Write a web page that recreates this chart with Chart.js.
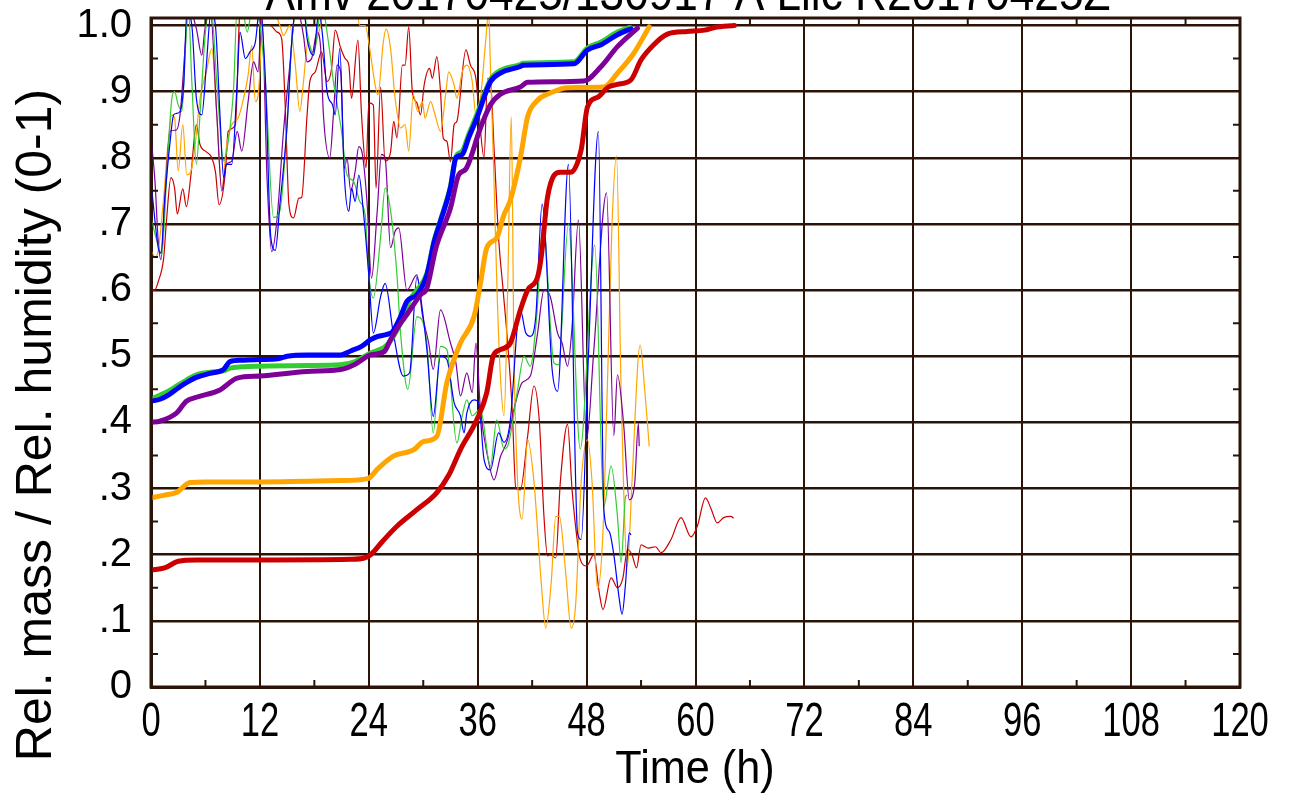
<!DOCTYPE html>
<html>
<head>
<meta charset="utf-8">
<script src="https://cdn.jsdelivr.net/npm/chart.js@4.4.0/dist/chart.umd.min.js"></script>
<style>
  html, body { margin: 0; background: #fff; }
  #wrap { width: 1292px; height: 797px; }
</style>
</head>
<body>
<div id="wrap"><canvas id="c" width="1292" height="797"></canvas></div>
<script>
// ===== Data
const titleText = 'Amv 20170425/130917 A Lilc R20170425Z';
const xTicks = [0, 12, 24, 36, 48, 60, 72, 84, 96, 108, 120];
const yTicks = [0, 0.1, 0.2, 0.3, 0.4, 0.5, 0.6, 0.7, 0.8, 0.9, 1.0];

// thick lines: relative mass
const massBlueT = [0, 1, 2, 3, 3.9, 5, 6.5, 8, 8.7, 10, 12, 14, 15, 17.2, 20.9, 22, 23.2, 24.2, 25, 26, 26.6, 27.5, 28.2, 29.3, 30.4, 31.2, 31.9, 33, 33.6, 34.3, 35, 35.9, 37.4, 38.5, 40.7, 41, 46.6, 48.1, 49.6, 51.4, 52.9];
const massBlueV = [0.432, 0.435, 0.442, 0.452, 0.46, 0.468, 0.474, 0.48, 0.492, 0.494, 0.495, 0.496, 0.5, 0.502, 0.502, 0.508, 0.515, 0.525, 0.53, 0.533, 0.537, 0.56, 0.583, 0.593, 0.623, 0.673, 0.704, 0.755, 0.8, 0.805, 0.83, 0.86, 0.915, 0.928, 0.938, 0.94, 0.942, 0.963, 0.971, 0.986, 0.995];

const massGreenT = [0, 2, 3.9, 5, 6.5, 8, 8.7, 10, 12, 17.2, 20.9, 22.5, 24.2, 26, 27.5, 28.5, 29.3, 30.4, 31.2, 31.9, 33, 33.6, 34.3, 35, 35.9, 37.4, 38.5, 40.7, 41, 46.6, 48.1, 49.6, 51.4, 52.8];
const massGreenV = [0.435, 0.448, 0.464, 0.472, 0.476, 0.478, 0.482, 0.484, 0.485, 0.486, 0.487, 0.492, 0.505, 0.517, 0.55, 0.585, 0.6, 0.625, 0.675, 0.706, 0.757, 0.802, 0.81, 0.835, 0.865, 0.918, 0.932, 0.941, 0.943, 0.945, 0.966, 0.975, 0.99, 0.997];

const massPurpleT = [0, 1, 2.8, 3.9, 5, 7.6, 9.5, 12, 17.2, 20.9, 22.5, 24.2, 25.7, 26.4, 27.5, 28.2, 29.7, 30.4, 31.4, 33, 33.9, 34.7, 36.3, 37.4, 38.5, 40.7, 41.5, 47.7, 49.6, 51.4, 53.6];
const massPurpleV = [0.4, 0.402, 0.414, 0.432, 0.438, 0.449, 0.467, 0.47, 0.477, 0.48, 0.488, 0.502, 0.507, 0.525, 0.55, 0.563, 0.593, 0.603, 0.664, 0.724, 0.774, 0.783, 0.845, 0.88, 0.896, 0.907, 0.914, 0.916, 0.938, 0.968, 0.996];

const massOrangeT = [0, 1.5, 2.8, 4.3, 6, 12, 20.9, 23.9, 25, 26.7, 29, 30, 31.5, 32.6, 34.1, 35.6, 36.3, 37, 38.1, 38.9, 39.6, 40.7, 41.5, 42.6, 44, 45.9, 49.9, 51.4, 53.2, 54.9];
const massOrangeV = [0.286, 0.29, 0.294, 0.309, 0.31, 0.31, 0.312, 0.315, 0.33, 0.349, 0.359, 0.371, 0.379, 0.46, 0.52, 0.56, 0.61, 0.664, 0.679, 0.714, 0.736, 0.8, 0.862, 0.887, 0.898, 0.906, 0.907, 0.928, 0.958, 0.998];

const massRedT = [0, 1.5, 3, 5, 12, 22, 23.5, 24.2, 25.5, 27.1, 29.3, 31.5, 32.8, 34.1, 35.9, 37, 37.7, 38.5, 39.6, 40.7, 41.5, 42.6, 43, 43.7, 45.1, 46.2, 47.4, 48.1, 49.3, 50.4, 51.4, 52.9, 54, 55.4, 56.9, 59.1, 61, 62.1, 64.3];
const massRedV = [0.177, 0.18, 0.19, 0.192, 0.192, 0.193, 0.195, 0.2, 0.22, 0.243, 0.268, 0.294, 0.32, 0.359, 0.404, 0.445, 0.5, 0.51, 0.52, 0.57, 0.6, 0.62, 0.65, 0.741, 0.778, 0.778, 0.812, 0.877, 0.892, 0.907, 0.911, 0.918, 0.948, 0.971, 0.987, 0.991, 0.993, 0.997, 1.0];

// thin lines: relative humidity
const rhBlueT = [0, 0.44, 0.8, 1.1, 1.5, 2.1, 2.5, 2.8, 3.2, 3.6, 3.95, 4.5, 5, 5.6, 6.1, 6.6, 7.1, 7.6, 8, 8.3, 8.9, 9.5, 9.8, 10.4, 10.9, 11.5, 12, 12.6, 13.2, 13.7, 14.2, 15, 15.5, 16.1, 16.8, 17.2, 17.9, 18.5, 18.9, 19.4, 20, 20.3, 20.8, 21.3, 21.8, 22.1, 22.5, 22.9, 23.4, 24, 24.5, 25.3, 25.8, 26.7, 27.8, 28.5, 29.3, 29.9, 30.4, 31.1, 31.9, 32.6, 33.4, 34.1, 34.5, 34.8, 35.6, 36.1, 36.7, 37.4, 38.3, 38.9, 39.6, 40.4, 40.7, 41.3, 41.8, 42.4, 43.1, 44.2, 44.8, 46, 47, 47.4, 48.2, 49.3, 49.9, 50.5, 51, 51.6, 51.9, 52.3, 52.7, 52.9];
const rhBlueV = [0.764, 0.704, 0.664, 0.656, 0.734, 0.824, 0.865, 0.867, 0.87, 0.91, 1.02, 1.0, 0.89, 0.865, 0.94, 1.02, 1.0, 0.865, 0.77, 0.79, 0.79, 0.915, 0.99, 0.95, 0.96, 0.975, 1.03, 0.92, 0.68, 0.66, 0.729, 0.85, 0.975, 1.03, 1.03, 0.98, 0.955, 1.02, 0.985, 0.9, 0.88, 0.865, 0.965, 0.774, 0.719, 0.754, 0.734, 0.774, 0.719, 0.623, 0.535, 0.59, 0.61, 0.535, 0.47, 0.475, 0.62, 0.57, 0.51, 0.409, 0.5, 0.495, 0.43, 0.41, 0.384, 0.414, 0.434, 0.43, 0.344, 0.328, 0.384, 0.37, 0.404, 0.55, 0.57, 0.535, 0.53, 0.56, 0.73, 0.48, 0.447, 0.79, 0.233, 0.223, 0.5, 0.84, 0.268, 0.235, 0.2, 0.133, 0.11, 0.158, 0.233, 0.23];

const rhGreenT = [0, 0.6, 1.2, 1.7, 2.3, 2.6, 3, 3.4, 3.8, 4.1, 4.5, 5, 5.4, 6, 6.6, 7.25, 8, 8.5, 9.1, 9.5, 10, 10.6, 11.2, 12, 12.6, 13.5, 14.2, 15, 15.5, 16.1, 16.8, 17.2, 17.9, 18.8, 19.6, 20.1, 21, 21.6, 22.3, 23, 23.6, 24, 24.5, 25.3, 25.8, 26.4, 27.1, 27.5, 28.3, 29.3, 30.4, 31.1, 31.9, 32.6, 33.7, 34.3, 34.8, 35.4, 36.3, 37.4, 38.1, 38.9, 39.3, 40.4, 41.1, 41.8, 42.5, 43.2, 44.4, 44.9, 46, 47.3, 48.9, 49.9, 50.7, 51.4, 51.8, 52.3, 52.5];
const rhGreenV = [0.71, 0.677, 0.654, 0.765, 0.89, 0.9, 0.88, 0.87, 0.965, 1.03, 0.915, 0.79, 0.865, 0.99, 1.03, 0.915, 0.795, 0.824, 0.905, 1.03, 1.03, 0.99, 1.03, 1.0, 0.915, 0.71, 0.72, 0.85, 0.97, 1.03, 1.03, 0.99, 0.955, 1.03, 0.97, 0.915, 0.84, 0.774, 0.765, 0.734, 0.714, 0.623, 0.588, 0.68, 0.754, 0.72, 0.623, 0.535, 0.45, 0.56, 0.52, 0.384, 0.515, 0.51, 0.369, 0.41, 0.434, 0.41, 0.42, 0.334, 0.404, 0.36, 0.364, 0.45, 0.5, 0.485, 0.56, 0.7, 0.49, 0.487, 0.7, 0.36, 0.668, 0.273, 0.334, 0.258, 0.188, 0.288, 0.29];

const rhPurpleT = [0, 0.44, 0.8, 1.1, 1.5, 2.1, 2.8, 3.2, 3.8, 4.1, 5, 5.6, 5.9, 6.5, 7.25, 7.8, 8.3, 8.9, 9.5, 10, 10.7, 11.3, 11.8, 12.2, 12.8, 13.3, 13.9, 14.6, 15.3, 16, 16.8, 17.2, 17.7, 18.3, 18.7, 19, 19.7, 20.1, 20.5, 20.9, 21.3, 21.6, 22, 22.5, 22.9, 23.3, 23.8, 24.3, 24.9, 25.4, 25.8, 26.4, 26.9, 27.3, 28.2, 29.3, 29.9, 30.6, 31.1, 31.9, 33, 33.6, 34.1, 34.8, 35.4, 35.8, 36.3, 37.1, 37.8, 38.5, 39.3, 40, 40.9, 41.8, 42.6, 43.3, 44, 44.8, 45.3, 45.9, 46.4, 47.1, 48, 48.8, 50.2, 51, 51.4, 52.1, 52.7, 53.3, 53.7, 53.8];
const rhPurpleV = [0.83, 0.764, 0.673, 0.646, 0.734, 0.84, 0.842, 0.865, 0.975, 1.03, 0.995, 0.955, 0.99, 1.03, 0.865, 0.75, 0.79, 0.795, 0.84, 0.81, 0.885, 0.945, 0.93, 1.02, 0.764, 0.658, 0.709, 0.84, 0.94, 1.03, 0.985, 0.945, 0.95, 0.99, 0.965, 0.865, 0.8, 0.865, 0.94, 0.93, 0.784, 0.8, 0.75, 0.78, 0.817, 0.805, 0.734, 0.618, 0.714, 0.805, 0.8, 0.664, 0.689, 0.694, 0.6, 0.623, 0.563, 0.52, 0.48, 0.57, 0.52, 0.49, 0.44, 0.475, 0.445, 0.52, 0.42, 0.348, 0.313, 0.348, 0.374, 0.42, 0.46, 0.47, 0.535, 0.6, 0.59, 0.535, 0.52, 0.485, 0.545, 0.706, 0.374, 0.51, 0.747, 0.38, 0.472, 0.394, 0.283, 0.308, 0.398, 0.364];

const rhOrangeT = [0, 0.44, 0.8, 1.36, 1.9, 2.3, 2.6, 3, 3.5, 3.94, 4.4, 4.9, 5.4, 6.1, 6.7, 7.25, 7.8, 8.3, 8.9, 9.6, 10.2, 10.7, 11.1, 11.5, 11.85, 12.4, 13.2, 14.2, 14.6, 15.3, 15.9, 16.4, 16.8, 17.3, 17.8, 18.5, 19.5, 21, 22.5, 23, 23.6, 24.1, 24.7, 25, 25.6, 25.9, 26.4, 26.9, 27.5, 28, 28.4, 28.9, 29.4, 29.9, 30.2, 30.8, 31.3, 31.9, 32.5, 32.8, 33.4, 33.7, 34.3, 34.8, 35.4, 35.8, 36.3, 36.9, 37.2, 37.4, 37.8, 38.1, 38.5, 38.9, 39.3, 39.7, 40, 40.4, 40.9, 41.5, 42.2, 43, 43.5, 44.1, 44.6, 45, 45.7, 46.3, 46.8, 47.4, 48.1, 48.6, 49.2, 49.8, 50.3, 50.8, 51.3, 51.8, 52.5, 53, 53.9, 54.4, 54.9];
const rhOrangeV = [0.66, 0.65, 0.66, 0.734, 0.824, 0.865, 0.86, 0.78, 0.85, 0.774, 0.78, 0.824, 0.89, 0.93, 0.965, 0.865, 0.754, 0.815, 0.85, 0.86, 0.89, 0.925, 0.97, 0.885, 0.9, 1.03, 1.03, 1.0, 0.985, 1.0, 0.94, 0.87, 0.915, 0.975, 0.96, 0.99, 1.04, 1.04, 1.04, 1.0, 1.0, 0.965, 0.91, 0.895, 0.975, 0.995, 0.965, 0.89, 0.845, 0.85, 0.81, 0.895, 0.87, 0.885, 0.86, 0.885, 0.865, 0.84, 0.9, 0.93, 0.91, 0.89, 0.93, 0.94, 0.915, 0.865, 0.89, 0.98, 1.02, 0.94, 0.764, 0.613, 0.47, 0.41, 0.6, 0.862, 0.5, 0.31, 0.254, 0.374, 0.31, 0.158, 0.089, 0.158, 0.258, 0.258, 0.172, 0.089, 0.126, 0.31, 0.374, 0.31, 0.148, 0.233, 0.46, 0.7, 0.803, 0.45, 0.183, 0.31, 0.517, 0.45, 0.364];

const rhRedT = [0, 0.4, 0.8, 1.4, 1.7, 2.2, 2.6, 2.9, 3.5, 3.9, 4.4, 5, 5.4, 6.1, 6.7, 7.1, 7.5, 8.2, 8.5, 9.3, 9.8, 10.5, 11.5, 12.5, 13.1, 13.9, 14.4, 14.8, 15.2, 15.7, 16.3, 16.6, 17.2, 17.5, 18.1, 18.8, 19.4, 19.9, 20.3, 20.9, 21.4, 21.8, 22.1, 22.8, 23.2, 23.7, 24, 24.5, 24.8, 25.3, 25.8, 26.4, 26.75, 27.1, 27.7, 28, 28.4, 28.8, 29.3, 29.7, 30.1, 30.7, 31, 31.5, 31.9, 32.2, 32.6, 33, 33.4, 33.7, 34.7, 35.2, 35.8, 36.1, 36.7, 37.1, 37.4, 37.8, 38.3, 38.8, 39.3, 39.8, 40.2, 40.7, 41.5, 42.2, 42.8, 43.3, 43.7, 44, 44.6, 45.1, 45.9, 46.4, 47, 47.3, 48, 48.8, 49.4, 49.8, 50.7, 51.4, 52, 52.5, 53, 53.5, 54, 54.8, 55.6, 56.2, 57.3, 58.4, 59.5, 60.2, 61.1, 61.7, 62.4, 63.1, 63.9, 64.2];
const rhRedV = [0.6, 0.6, 0.613, 0.649, 0.704, 0.77, 0.754, 0.715, 0.753, 0.726, 0.774, 0.85, 0.82, 0.809, 0.8, 0.779, 0.729, 0.779, 0.84, 0.85, 1.02, 1.03, 1.02, 1.0, 1.0, 0.99, 0.98, 0.875, 0.729, 0.709, 0.739, 0.74, 0.865, 0.915, 0.93, 0.96, 0.915, 0.935, 0.993, 0.966, 0.95, 0.94, 0.89, 0.978, 0.865, 0.785, 0.883, 0.88, 0.754, 0.907, 0.795, 0.809, 0.855, 0.83, 0.94, 0.94, 0.998, 0.9, 0.883, 0.865, 0.91, 0.935, 0.92, 0.953, 0.9, 0.83, 0.825, 0.794, 0.85, 0.855, 0.963, 0.94, 0.92, 0.875, 0.8, 0.92, 0.917, 0.815, 0.68, 0.6, 0.52, 0.42, 0.3, 0.298, 0.379, 0.455, 0.4, 0.258, 0.198, 0.2, 0.195, 0.309, 0.397, 0.298, 0.218, 0.193, 0.183, 0.2, 0.142, 0.117, 0.165, 0.15, 0.165, 0.208, 0.2, 0.18, 0.215, 0.21, 0.212, 0.203, 0.223, 0.256, 0.227, 0.243, 0.286, 0.27, 0.248, 0.256, 0.258, 0.255];

// ===== Styles
const INK = '#2a1408';
const BLUE = '#0000ff';
const GREEN = '#33cc33';
const PURPLE = '#7d0099';
const ORANGE = '#ffa500';
const RED = '#cc0000';

const pts = (ts, vs) => ts.map((t, i) => ({ x: t, y: vs[i] }));
const thick = (data, color) => ({ data, borderColor: color, borderWidth: 5, pointRadius: 0, cubicInterpolationMode: 'monotone', borderCapStyle: 'round', borderJoinStyle: 'round' });
const thin = (data, color) => ({ data, borderColor: color, borderWidth: 1.2, pointRadius: 0, cubicInterpolationMode: 'monotone' });

// ===== Frame, minor ticks and texts
const decor = {
  id: 'decor',
  afterDatasetsDraw(chart) {
    const { ctx, chartArea: a, scales: { x, y } } = chart;
    ctx.save();
    ctx.strokeStyle = INK;
    ctx.lineWidth = 2;
    ctx.beginPath();
    for (let i = 0; i < xTicks.length - 1; i++) {
      const px = x.getPixelForValue((xTicks[i] + xTicks[i + 1]) / 2);
      ctx.moveTo(px, a.bottom); ctx.lineTo(px, a.bottom - 7);
      ctx.moveTo(px, a.top); ctx.lineTo(px, a.top + 7);
    }
    for (let i = 0; i < yTicks.length - 1; i++) {
      const py = y.getPixelForValue((yTicks[i] + yTicks[i + 1]) / 2);
      ctx.moveTo(a.left, py); ctx.lineTo(a.left + 7, py);
      ctx.moveTo(a.right, py); ctx.lineTo(a.right - 7, py);
    }
    ctx.stroke();
    ctx.lineWidth = 3;
    ctx.strokeRect(a.left, a.top, a.right - a.left, a.bottom - a.top);
    ctx.restore();
  },
  afterDraw(chart) {
    const { ctx, scales: { x } } = chart;
    ctx.save();
    ctx.fillStyle = '#000';
    // title, cut by the top edge
    ctx.font = '50px Arial, "Liberation Sans", sans-serif';
    ctx.textAlign = 'center';
    ctx.textBaseline = 'alphabetic';
    ctx.fillText(titleText, 688, 10, 845);
    // x tick labels (condensed)
    ctx.font = '48px Arial, "Liberation Sans", sans-serif';
    xTicks.forEach(t => {
      ctx.save();
      ctx.translate(x.getPixelForValue(t), 736);
      ctx.scale(0.72, 1);
      ctx.fillText(String(t), 0, 0);
      ctx.restore();
    });
    // x title
    ctx.save();
    ctx.font = '47px Arial, "Liberation Sans", sans-serif';
    ctx.translate(695, 783);
    ctx.scale(0.92, 1);
    ctx.fillText('Time (h)', 0, 0);
    ctx.restore();
    // y title
    ctx.save();
    ctx.font = '50px Arial, "Liberation Sans", sans-serif';
    ctx.textBaseline = 'middle';
    ctx.translate(37, 425);
    ctx.rotate(-Math.PI / 2);
    ctx.fillText('Rel. mass / Rel. humidity (0-1)', 0, 0);
    ctx.restore();
    ctx.restore();
  }
};

document.addEventListener('DOMContentLoaded', () => {
  const ctx = document.getElementById('c').getContext('2d');
  new Chart(ctx, {
    type: 'line',
    data: {
      datasets: [
        thick(pts(massRedT, massRedV), RED),
        thick(pts(massOrangeT, massOrangeV), ORANGE),
        thick(pts(massPurpleT, massPurpleV), PURPLE),
        thick(pts(massBlueT, massBlueV), BLUE),
        thick(pts(massGreenT, massGreenV), GREEN),
        thin(pts(rhBlueT, rhBlueV), BLUE),
        thin(pts(rhGreenT, rhGreenV), GREEN),
        thin(pts(rhPurpleT, rhPurpleV), PURPLE),
        thin(pts(rhOrangeT, rhOrangeV), ORANGE),
        thin(pts(rhRedT, rhRedV), RED)
      ]
    },
    options: {
      responsive: false,
      animation: false,
      devicePixelRatio: 1,
      layout: { padding: { left: 0, top: 18, right: 52, bottom: 0 } },
      plugins: { legend: { display: false }, tooltip: { enabled: false }, title: { display: false } },
      scales: {
        x: {
          type: 'linear', min: 0, max: 120,
          afterBuildTicks: s => { s.ticks = xTicks.map(v => ({ value: v })); },
          afterFit: s => { s.height = 110; s.paddingLeft = 0; s.paddingRight = 0; },
          ticks: { display: false },
          grid: { color: INK, lineWidth: 2, drawTicks: false },
          border: { color: INK, width: 3 }
        },
        y: {
          type: 'linear', min: 0, max: 1.0113,
          afterBuildTicks: s => { s.ticks = yTicks.map(v => ({ value: v })); },
          afterFit: s => { s.width = 151; s.paddingTop = 0; s.paddingBottom = 0; },
          ticks: {
            padding: 19,
            color: '#000',
            font: { family: 'Arial, "Liberation Sans", sans-serif', size: 40 },
            callback: v => v === 0 ? '0' : v >= 1 ? '1.0' : '.' + Math.round(v * 10)
          },
          grid: { color: INK, lineWidth: 2.5, drawTicks: false },
          border: { color: INK, width: 3 }
        }
      }
    },
    plugins: [decor]
  });
});
</script>
</body>
</html>
